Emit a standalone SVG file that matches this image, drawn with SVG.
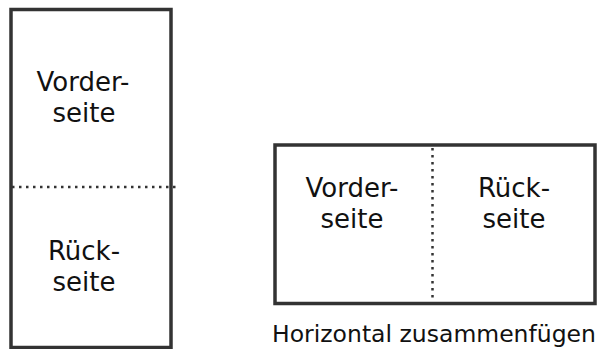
<svg xmlns="http://www.w3.org/2000/svg" width="600" height="349" viewBox="0 0 600 349">
<style>
.box{fill:#fff;stroke:#333;stroke-width:3.5}
.dot{stroke:#333;stroke-width:2.5;stroke-dasharray:2.5 4.5;fill:none}
.lbl{font-family:"DejaVu Sans",Verdana,sans-serif;font-size:26px;fill:#111;text-anchor:middle}
.cap{font-family:"DejaVu Sans",Verdana,sans-serif;font-size:23.5px;fill:#111;text-anchor:middle}
</style>
<rect width="600" height="349" fill="#fff"/>
<g id="vertical">
<rect class="box" x="11" y="9.5" width="160" height="338"/>
<text class="lbl" x="83" y="91">Vorder-</text>
<text class="lbl" x="84" y="122">seite</text>
<text class="lbl" x="84" y="260">Rück-</text>
<text class="lbl" x="84" y="291">seite</text>
</g>
<g id="horizontal">
<rect class="box" x="275" y="145" width="320" height="158.5"/>
<text class="lbl" x="352" y="197">Vorder-</text>
<text class="lbl" x="352" y="228">seite</text>
<text class="lbl" x="514" y="197">Rück-</text>
<text class="lbl" x="514" y="228">seite</text>
</g>
<g id="connectors">
<line class="dot" x1="12" y1="187" x2="176" y2="187"/>
<line class="dot" x1="432.5" y1="148" x2="432.5" y2="302"/>
</g>
<text class="cap" x="434" y="342">Horizontal zusammenfügen</text>
</svg>
